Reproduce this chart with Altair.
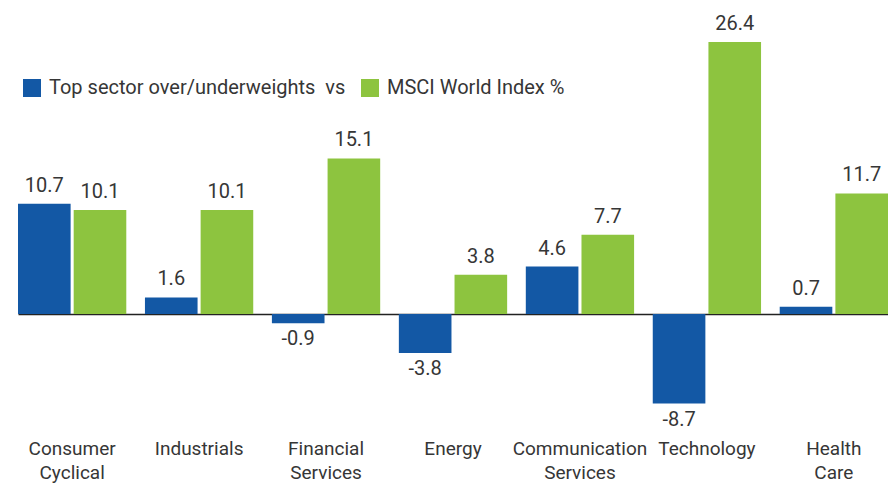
import altair as alt
import pandas as pd

categories = ["Consumer Cyclical", "Industrials", "Financial Services", "Energy",
              "Communication Services", "Technology", "Health Care"]
series_names = ["Top sector over/underweights\u00a0 vs", "MSCI World Index %"]
over_under = [10.7, 1.6, -0.9, -3.8, 4.6, -8.7, 0.7]
msci_world = [10.1, 10.1, 15.1, 3.8, 7.7, 26.4, 11.7]
colors = ["#1358a5", "#8dc43f"]

rows = []
for c, a, b in zip(categories, over_under, msci_world):
    rows.append({"cat": c, "series": series_names[0], "value": a})
    rows.append({"cat": c, "series": series_names[1], "value": b})
df = pd.DataFrame(rows)

FONT = "Roboto"
TXT = "#363636"

x_enc = alt.X("cat:N", sort=categories,
              scale=alt.Scale(paddingInner=0.147, paddingOuter=0),
              axis=alt.Axis(title=None, domain=False, ticks=False, labelAngle=0,
                            labelFont=FONT, labelFontSize=19, labelColor=TXT,
                            labelLineHeight=24, labelPadding=7, labelBaseline="top",
                            labelLimit=0,
                            labelExpr="split(datum.label, ' ')"))
xo_enc = alt.XOffset("series:N", sort=series_names,
                     scale=alt.Scale(paddingInner=0.055, paddingOuter=0))
y_enc = alt.Y("value:Q", scale=alt.Scale(domain=[-11.46, 29.7], nice=False, zero=False),
              axis=alt.Axis(title=None, values=[0], grid=True, gridColor="#222222",
                            gridWidth=1.3, gridOpacity=1, labels=False, ticks=False,
                            domain=False))

base = alt.Chart(df).encode(x=x_enc, xOffset=xo_enc, y=y_enc).transform_calculate(
    lbl="replace(format(datum.value, '.1f'), '\u2212', '-')"
)

bars = base.mark_bar().encode(
    color=alt.Color("series:N", sort=series_names,
                    scale=alt.Scale(domain=series_names, range=colors),
                    legend=alt.Legend(title=None, orient="none", legendX=4, legendY=70,
                                      direction="horizontal", symbolType="square",
                                      symbolSize=324, symbolStrokeWidth=0,
                                      labelFont=FONT, labelFontSize=20, labelColor=TXT,
                                      labelLimit=0,
                                      labelOffset=7, columnPadding=14, padding=0))
)

pos_text = base.transform_filter("datum.value >= 0").mark_text(
    baseline="bottom", dy=-8, font=FONT, fontSize=20, color=TXT
).encode(text="lbl:N")

neg_text = base.transform_filter("datum.value < 0").mark_text(
    baseline="top", dy=6, font=FONT, fontSize=20, color=TXT
).encode(text="lbl:N")

chart = alt.layer(bars, pos_text, neg_text).properties(
    width=870, height=424,
    padding={"left": 10, "top": 0, "right": 0, "bottom": 51},
    autosize=alt.AutoSizeParams(type="none")
).configure_view(stroke=None)

chart.save("out.html", embed_options={"renderer": "svg", "actions": False})
